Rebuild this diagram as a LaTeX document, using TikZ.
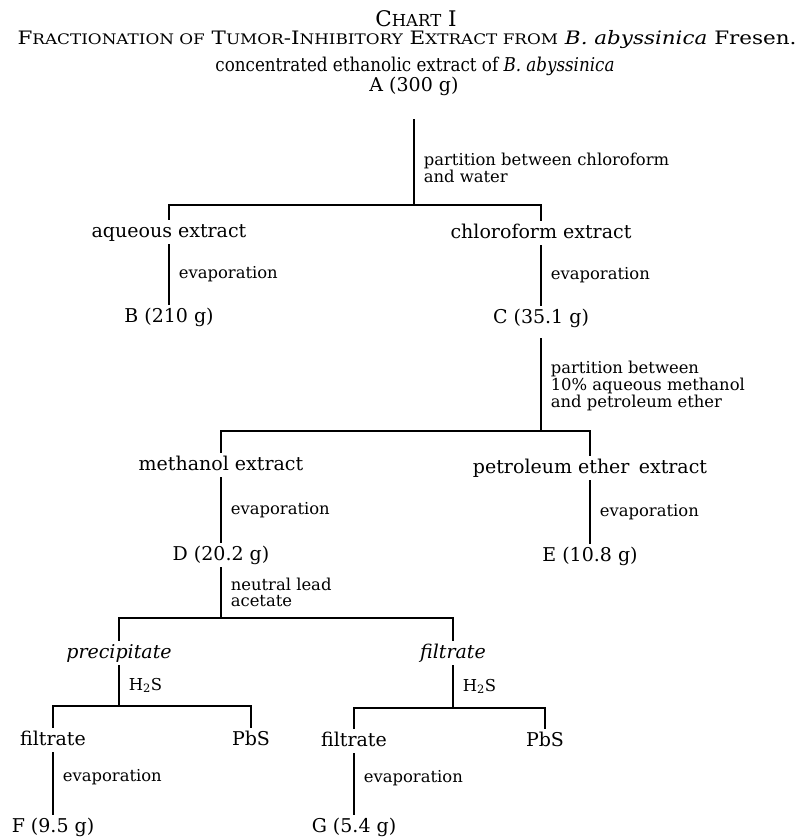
\documentclass[tikz,border=0pt]{standalone}
\usepackage{graphicx}
\usepackage{fontspec}
\setmainfont{DejaVu Serif}
\newcommand{\fakesc}[1]{{\fontsize{14.5}{16}\selectfont #1}}
\newcommand{\chartsc}[1]{{\fontsize{16.5}{18}\selectfont #1}}
\tikzstyle{fraction} = [
    inner sep = 3pt,
    text height = 14pt,
    text depth = 4pt,
    font = \fontsize{19}{22}\selectfont
]
\tikzstyle{treatment} = [
    anchor = west,
    align = left,
    inner sep = 0pt,
    xshift = 9pt,
    font = \fontsize{16.4}{15.5}\selectfont
]
\tikzstyle{heading} = [inner sep = 0pt, font = \fontsize{18.5}{22}\selectfont]
\tikzstyle{stem} = [line width = 1.6pt]
\tikzstyle{branch} = [line width = 1.8pt]
\begin{document}
\begin{tikzpicture}[x = 1pt, y = -1pt]
    \useasboundingbox (0,0) rectangle (798,837);

    \node (chart) [heading] at (416,19)
        {\fontsize{21.5}{24}\selectfont C\chartsc{HART} I};
    \node (title) [heading] at (407,40)
        {\scalebox{1.16}[1]{F\fakesc{RACTIONATION OF} T\fakesc{UMOR}-I\fakesc{NHIBITORY}
         E\fakesc{XTRACT FROM} \textit{B. abyssinica} Fresen.}};

    \node (ethanolic) [fraction] at (415,67)
        {\scalebox{0.88}[1]{concentrated ethanolic extract of \textit{B. abyssinica}}};
    \node (A) [fraction] at (414,87) {A (300 g)};

    % first partition
    \coordinate (split chloroform) at (414,205);
    \node (aqueous extract) [fraction] at (169,232) {aqueous extract};
    \node (chloroform extract) [fraction] at (541,233) {chloroform extract};
    \node (B) [fraction] at (169,317) {B (210 g)};
    \node (C) [fraction] at (541,318) {C (35.1 g)};

    \draw [stem, shorten < = 20pt]
        (A) -- node[treatment, pos = 0.65]
        {partition between chloroform\\and water}(split chloroform);
    \draw [branch]
        (aqueous extract) |- (split chloroform) -| (chloroform extract);
    \draw [stem]
        (aqueous extract) -- node[treatment]{evaporation}(B);
    \draw [stem]
        (chloroform extract) -- node[treatment]{evaporation}(C);

    % second partition
    \coordinate (split methanol) at (541,431);
    \node (methanol extract) [fraction] at (221,465) {methanol extract};
    \node (petroleum extract) [fraction] at (590,468)
        {petroleum ether\,\ extract};
    \node (D) [fraction] at (221,555) {D (20.2 g)};
    \node (E) [fraction] at (590,556) {E (10.8 g)};

    \draw [stem, shorten < = 8pt]
        (C) -- node[treatment, pos = 0.55]
        {partition between\\10\% aqueous methanol\\and petroleum ether}
        (split methanol);
    \draw [branch]
        (methanol extract) |- (split methanol) -| (petroleum extract);
    \draw [stem]
        (methanol extract) -- node[treatment]{evaporation}(D);
    \draw [stem]
        (petroleum extract) -- node[treatment]{evaporation}(E);

    % lead acetate
    \coordinate (split lead) at (221,618);
    \node (precipitate) [fraction] at (119,653) {\textit{precipitate}};
    \node (lead filtrate) [fraction] at (453,653) {\textit{filtrate}};

    \draw [stem]
        (D) -- node[treatment]{neutral lead\\acetate}(split lead);
    \draw [branch]
        (precipitate) |- (split lead) -| (lead filtrate);

    % hydrogen sulfide
    \coordinate (split precipitate) at (119,706);
    \coordinate (split filtrate) at (453,708);
    \node (filtrate one) [fraction] at (53,740) {filtrate};
    \node (sulfide one) [fraction] at (251,740) {PbS};
    \node (filtrate two) [fraction] at (354,741) {filtrate};
    \node (sulfide two) [fraction] at (545,741) {PbS};
    \node (F) [fraction] at (53,827) {F (9.5 g)};
    \node (G) [fraction] at (354,827) {G (5.4 g)};

    \draw [stem]
        (precipitate) -- node[treatment]{H\textsubscript{2}S}(split precipitate);
    \draw [stem]
        (lead filtrate) -- node[treatment]{H\textsubscript{2}S}(split filtrate);
    \draw [branch]
        (filtrate one) |- (split precipitate) -| (sulfide one);
    \draw [branch]
        (filtrate two) |- (split filtrate) -| (sulfide two);
    \draw [stem]
        (filtrate one) -- node[treatment, pos = 0.4]{evaporation}(F);
    \draw [stem]
        (filtrate two) -- node[treatment, pos = 0.4]{evaporation}(G);
\end{tikzpicture}
\end{document}
